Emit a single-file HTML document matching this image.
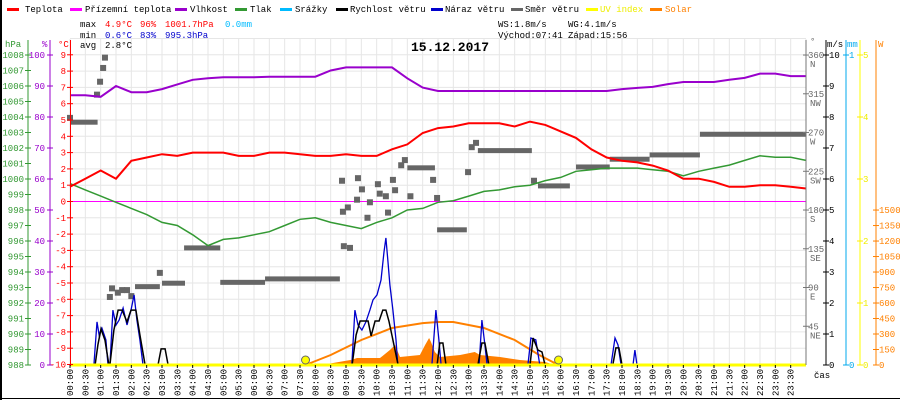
<!DOCTYPE html>
<html><head><meta charset="utf-8"><style>
body{margin:0;background:#fff}
svg{display:block;font-family:"Liberation Mono",monospace;font-size:9px}
</style></head><body>
<svg id="c" width="900" height="400" viewBox="0 0 900 400"></svg>
<script>
// ---- data (hours / data units) ----
const halfHours=[0,0.5,1,1.5,2,2.5,3,3.5,4,4.5,5,5.5,6,6.5,7,7.5,8,8.5,9,9.5,10,10.5,11,11.5,12,12.5,13,13.5,14,14.5,15,15.5,16,16.5,17,17.5,18,18.5,19,19.5,20,20.5,21,21.5,22,22.5,23,23.5,24];
const tempVals=[0.9,1.4,1.9,1.4,2.5,2.7,2.9,2.8,3.0,3.0,3.0,2.8,2.8,3.0,3.0,2.9,2.8,2.8,2.9,2.8,2.8,3.2,3.5,4.2,4.5,4.6,4.8,4.8,4.8,4.6,4.9,4.7,4.3,3.9,3.2,2.7,2.5,2.4,2.2,1.9,1.4,1.4,1.2,0.9,0.9,1.0,1.0,0.9,0.8];
const humVals=[87,87,86.5,90,88,88,89,90.5,92,92.5,92.8,92.8,92.8,93,93,93,93,95,96,96,96,96,92.5,89.5,88.4,88.4,88.4,88.4,88.4,88.4,88.4,88.4,88.4,88.4,88.4,88.4,89,89.4,89.7,90.6,91.3,91.3,91.3,92,92.6,94,94,93.2,93.2];
const presVals=[999.7,999.3,998.9,998.5,998.1,997.7,997.2,997.0,996.4,995.7,996.1,996.2,996.4,996.6,997.0,997.4,997.5,997.2,997.0,996.8,997.2,997.5,998.0,998.1,998.5,998.6,998.9,999.2,999.3,999.5,999.6,999.9,1000.1,1000.5,1000.6,1000.7,1000.7,1000.7,1000.6,1000.5,1000.2,1000.5,1000.7,1000.9,1001.2,1001.5,1001.4,1001.4,1001.2];
const dirRuns=[[0,0.9,282],[2.12,2.93,91],[3.0,3.75,95],[3.72,4.9,136],[4.9,6.36,96],[6.36,8.8,100],[11.0,11.9,229],[11.97,12.94,157],[13.3,15.06,249],[15.26,16.3,208],[16.5,17.6,230],[17.6,18.9,239],[18.9,20.54,244],[20.54,24,268]];
const dirPoints=[[0,287],[0.88,314],[0.98,329],[1.08,345],[1.14,357],[1.3,79],[1.37,89],[1.56,84],[1.7,87],[1.86,87],[2.0,80],[2.93,107],[9.13,136],[8.87,214],[9.06,183],[8.9,178],[8.93,138],[9.36,192],[9.39,217],[9.52,204],[9.78,189],[10.04,210],[10.1,199],[10.3,196],[10.37,177],[10.53,215],[10.6,203],[9.7,171],[11.1,196],[11.84,215],[10.8,232],[10.92,238],[11.97,194],[12.98,224],[13.1,253],[13.24,258],[15.13,214]];
const windSpeed=[[0,0],[0.82,0],[0.91,0.65],[1.01,1.16],[1.14,0.8],[1.27,0],[1.3,0],[1.43,1.13],[1.57,1.77],[1.7,1.77],[1.86,1.39],[1.99,1.77],[2.15,1.77],[2.28,0.97],[2.45,0],[2.87,0],[2.97,0.52],[3.1,0.52],[3.2,0],[9.2,0],[9.33,0.97],[9.46,1.42],[9.72,1.42],[9.82,0.94],[9.95,1.42],[10.08,1.42],[10.2,1.77],[10.3,1.77],[10.4,1.42],[10.53,0.81],[10.7,0],[11.97,0],[12.06,0.71],[12.16,0.71],[12.26,0],[13.3,0],[13.43,0.71],[13.53,0.71],[13.66,0],[15.0,0],[15.1,0.87],[15.26,0.48],[15.39,0.42],[15.49,0],[17.7,0],[17.8,0.55],[17.9,0.55],[18.0,0],[24,0]];
const gustSeries=[
 [[0.78,0],[0.88,1.39],[0.95,0.97],[1.04,1.19],[1.17,0.81],[1.24,0]],
 [[1.30,0],[1.40,1.77],[1.50,1.29],[1.60,1.45],[1.73,1.84],[1.86,1.29],[1.99,1.77],[2.09,2.26],[2.18,1.45],[2.28,0.81],[2.38,0]],
 [[9.19,0],[9.29,1.77],[9.39,1.29],[9.52,1.13],[9.65,1.39],[9.78,1.77],[9.88,2.10],[10.01,2.26],[10.14,2.74],[10.24,3.65],[10.30,4.10],[10.37,3.32],[10.43,2.58],[10.53,1.77],[10.63,0.81],[10.69,0]],
 [[11.80,0],[11.93,1.77],[12.03,0.81],[12.10,0]],
 [[13.34,0],[13.43,1.45],[13.53,0.65],[13.60,0]],
 [[14.93,0],[15.03,0.87],[15.19,0.81],[15.32,0]],
 [[17.64,0],[17.77,0.87],[17.87,0.65],[17.97,0]],
 [[18.36,0],[18.42,0.48],[18.49,0]]];
const solarActual=[[8.2,0],[8.6,20],[9.19,50],[9.36,68],[10.11,68],[10.43,145],[10.6,194],[10.76,77],[11.41,97],[11.58,194],[11.71,261],[11.77,223],[11.9,126],[12.06,77],[12.72,97],[13.2,126],[13.37,97],[14.02,77],[14.67,48],[15.49,29],[15.81,0]];
const solarTheory=[[7.68,0],[8.5,97],[9.5,242],[10.5,358],[11.5,406],[12,416],[12.5,416],[13.5,358],[14.5,242],[15.3,97],[15.93,0]];
const sunEvents=[7.68,15.93];
const tempTicks=[-10,-9,-8,-7,-6,-5,-4,-3,-2,-1,0,1,2,3,4,5,6,7,8,9];
const presTicks=[988,989,990,991,992,993,994,995,996,997,998,999,1000,1001,1002,1003,1004,1005,1006,1007,1008];
const humTicks=[0,10,20,30,40,50,60,70,80,90,100];
const dirTicks=[[45,"NE"],[90,"E"],[135,"SE"],[180,"S"],[225,"SW"],[270,"W"],[315,"NW"],[360,"N"]];
const msTicks=[0,1,2,3,4,5,6,7,8,9,10];
const uvTicks=[0,1,2,3,4,5];
const wTicks=[0,150,300,450,600,750,900,1050,1200,1350,1500];

// ---- scales ----
const X=h=>70+h*30.667;
const YT=t=>201.5-t*16.3;
const YP=p=>365-(p-988)*15.5;
const YH=v=>365-v*3.1;
const YD=d=>365-d*0.861;
const YW=v=>365-v*31;
const YU=u=>365-u*62;
const YS=w=>365-w*0.1033;

const svg=document.getElementById('c');const NS='http://www.w3.org/2000/svg';
function mk(tag,attrs,parent){const e=document.createElementNS(NS,tag);for(const k in attrs)e.setAttribute(k,attrs[k]);(parent||svg).appendChild(e);return e;}
function txt(x,y,s,fill,anchor,parent){const e=mk('text',{x:x,y:y,fill:fill,'text-anchor':anchor||'start'},parent);e.textContent=s;return e;}
function group(name){const g=mk('g',{});return g;}

// grid
const grid=group('grid');
for(let i=0;i<=48;i++){mk('line',{x1:X(i/2),x2:X(i/2),y1:39,y2:365,stroke:'#e6e6e6','stroke-width':1},grid);}
for(let t=-10;t<=10;t++){mk('line',{x1:70,x2:806,y1:YT(t),y2:YT(t),stroke:'#e6e6e6','stroke-width':1},grid);}
mk('line',{x1:70,x2:806,y1:YT(0),y2:YT(0),stroke:'#ff00ff','stroke-width':1},grid);

// solar actual area
const sa=group('solar-area');
let d='M'+X(solarActual[0][0])+' '+YS(0);
solarActual.forEach(p=>d+=' L'+X(p[0]).toFixed(1)+' '+YS(p[1]).toFixed(1));
d+=' L'+X(solarActual[solarActual.length-1][0])+' '+YS(0)+'Z';
mk('path',{d:d,fill:'#ff8000'},sa);
// theoretical
const st=group('solar-theoretical-line');
mk('polyline',{points:solarTheory.map(p=>X(p[0]).toFixed(1)+','+YS(p[1]).toFixed(1)).join(' '),fill:'none',stroke:'#ff8000','stroke-width':2},st);

// wind direction
const wd=group('wind-direction-series');
dirRuns.forEach(r=>{mk('rect',{x:X(r[0]),y:YD(r[2])-2.5,width:X(r[1])-X(r[0]),height:5,fill:'#666'},wd);});
dirPoints.forEach(p=>{mk('rect',{x:X(p[0])-3,y:YD(p[1])-3,width:6,height:6,fill:'#666'},wd);});

// pressure, humidity, temperature
function line(name,xs,vals,Y,color,w){const g=group(name);mk('polyline',{points:xs.map((h,i)=>X(h).toFixed(1)+','+Y(vals[i]).toFixed(1)).join(' '),fill:'none',stroke:color,'stroke-width':w},g);}
line('pressure-line',halfHours,presVals,YP,'#339933',1.5);
line('humidity-line',halfHours,humVals,YH,'#9900cc',2);
line('temperature-line',halfHours,tempVals,YT,'#ff0000',2);

// gust & speed
const gg=group('wind-gust-series');
gustSeries.forEach(s=>mk('polyline',{points:s.map(p=>X(p[0]).toFixed(1)+','+YW(p[1]).toFixed(1)).join(' '),fill:'none',stroke:'#0000cc','stroke-width':1.3},gg));
const ws=group('wind-speed-line');
mk('polyline',{points:windSpeed.map(p=>X(p[0]).toFixed(1)+','+YW(p[1]).toFixed(1)).join(' '),fill:'none',stroke:'#000','stroke-width':1.5},ws);

// bottom UV line
mk('line',{x1:70,x2:806,y1:365,y2:365,stroke:'#ffff00','stroke-width':3});
// sun markers
const sm=group('sunrise-sunset-markers');
sunEvents.forEach(h=>mk('circle',{cx:X(h),cy:360,r:4,fill:'#ffff00',stroke:'#666','stroke-width':1},sm));

// left axes
const ax=group('axes');
mk('line',{x1:28,x2:28,y1:40,y2:365,stroke:'#339933'},ax);
mk('line',{x1:50,x2:50,y1:40,y2:365,stroke:'#9900cc'},ax);
mk('line',{x1:70.5,x2:70.5,y1:40,y2:366,stroke:'#ff0000'},ax);
presTicks.forEach(p=>{mk('line',{x1:25,x2:31,y1:YP(p),y2:YP(p),stroke:'#339933'},ax);txt(24,YP(p)+3,String(p),'#339933','end',ax);});
humTicks.forEach(v=>{mk('line',{x1:47,x2:53,y1:YH(v),y2:YH(v),stroke:'#9900cc'},ax);txt(45,YH(v)+3,String(v),'#9900cc','end',ax);});
tempTicks.forEach(t=>{mk('line',{x1:67,x2:73,y1:YT(t),y2:YT(t),stroke:'#ff0000'},ax);txt(66,YT(t)+3,String(t),'#ff0000','end',ax);});
txt(5,47,'hPa','#339933','start',ax);txt(42,47,'%','#9900cc','start',ax);txt(58,47,'°C','#ff0000','start',ax);
// right axes
mk('line',{x1:806,x2:806,y1:40,y2:365,stroke:'#777'},ax);
mk('line',{x1:826,x2:826,y1:40,y2:365,stroke:'#000'},ax);
mk('line',{x1:846,x2:846,y1:40,y2:365,stroke:'#00aaee'},ax);
mk('line',{x1:860,x2:860,y1:40,y2:365,stroke:'#ffff00'},ax);
mk('line',{x1:876,x2:876,y1:40,y2:365,stroke:'#ff8000'},ax);
dirTicks.forEach(t=>{mk('line',{x1:803,x2:809,y1:YD(t[0]),y2:YD(t[0]),stroke:'#777'},ax);txt(808,YD(t[0])+3,String(t[0]),'#666','start',ax);txt(810,YD(t[0])+12,t[1],'#666','start',ax);});
msTicks.forEach(v=>{mk('line',{x1:823,x2:829,y1:YW(v),y2:YW(v),stroke:'#000'},ax);txt(829,YW(v)+3,String(v),'#000','start',ax);});
[0,1].forEach(v=>{mk('line',{x1:843,x2:849,y1:v?55:365,y2:v?55:365,stroke:'#00aaee'},ax);txt(849,(v?55:365)+3,String(v),'#00aaee','start',ax);});
uvTicks.forEach(v=>{mk('line',{x1:857,x2:863,y1:YU(v),y2:YU(v),stroke:'#ffee00'},ax);txt(863,YU(v)+3,String(v),'#eeee00','start',ax);});
wTicks.forEach(v=>{mk('line',{x1:873,x2:879,y1:YS(v),y2:YS(v),stroke:'#ff8000'},ax);txt(879,YS(v)+3,String(v),'#ff8000','start',ax);});
txt(810,44,'°','#666','start',ax);txt(827,47,'m/s','#000','start',ax);txt(847,47,'mm','#00aaee','start',ax);txt(878,47,'W','#ff8000','start',ax);
// time labels
const tl=group('x-axis-time-labels');
for(let i=0;i<48;i++){const h=Math.floor(i/2),m=i%2?'30':'00';const s=(h<10?'0':'')+h+':'+m;const x=X(i/2)+3;const e=txt(0,0,s,'#000','start',tl);e.setAttribute('transform','translate('+x+',396) rotate(-90)');mk('line',{x1:X(i/2),x2:X(i/2),y1:365,y2:368,stroke:'#000'},tl);}
txt(814,378,'čas','#000','start',ax);
mk('line',{x1:0,x2:900,y1:398.5,y2:398.5,stroke:'#000'});
mk('line',{x1:1,x2:1,y1:0,y2:400,stroke:'#000','stroke-width':2});
</script>
<svg width="900" height="60" style="position:absolute;left:0;top:0;font-family:'Liberation Mono',monospace;font-size:9px">
<g>
<g><rect x="7" y="8" width="12" height="3" fill="#ff0000"/><text x="25" y="12">Teplota</text></g>
<g><rect x="70" y="8" width="12" height="3" fill="#ff00ff"/><text x="85" y="12">Přízemní teplota</text></g>
<g><rect x="175" y="8" width="12" height="3" fill="#9900cc"/><text x="190" y="12">Vlhkost</text></g>
<g><rect x="235" y="8" width="12" height="3" fill="#339933"/><text x="250" y="12">Tlak</text></g>
<g><rect x="280" y="8" width="12" height="3" fill="#00bbff"/><text x="295" y="12">Srážky</text></g>
<g><rect x="336" y="8" width="12" height="3" fill="#000"/><text x="350" y="12">Rychlost větru</text></g>
<g><rect x="431" y="8" width="12" height="3" fill="#0000cc"/><text x="445" y="12">Náraz větru</text></g>
<g><rect x="511" y="8" width="12" height="3" fill="#666"/><text x="525" y="12">Směr větru</text></g>
<g><rect x="586" y="8" width="12" height="3" fill="#ffff00"/><text x="600" y="12" fill="#eeee00">UV index</text></g>
<g><rect x="650" y="8" width="12" height="3" fill="#ff8000"/><text x="665" y="12" fill="#ff8000">Solar</text></g>
</g>
<g>
<text x="80" y="27">max</text><text x="105" y="27" fill="#ff0000">4.9°C</text><text x="140" y="27" fill="#ff0000">96%</text><text x="165" y="27" fill="#ff0000">1001.7hPa</text><text x="225" y="27" fill="#00bbff">0.0mm</text>
<text x="80" y="38">min</text><text x="105" y="38" fill="#0000cc">0.6°C</text><text x="140" y="38" fill="#0000cc">83%</text><text x="165" y="38" fill="#0000cc">995.3hPa</text>
<text x="80" y="48">avg</text><text x="105" y="48">2.8°C</text>
<text x="498" y="27">WS:1.8m/s</text><text x="568" y="27">WG:4.1m/s</text>
<text x="498" y="38">Východ:07:41</text><text x="568" y="38">Západ:15:56</text>
</g>
<text x="450" y="51" text-anchor="middle" font-size="13" font-weight="bold">15.12.2017</text>
</svg>
</body></html>
